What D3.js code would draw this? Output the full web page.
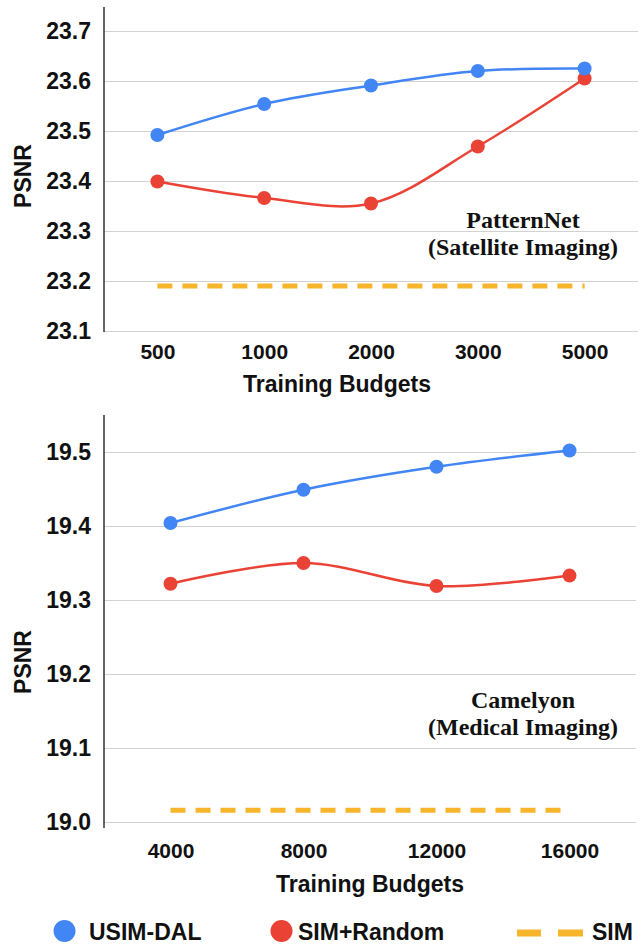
<!DOCTYPE html>
<html>
<head>
<meta charset="utf-8">
<script src="https://cdn.jsdelivr.net/npm/d3@7"></script>
<style>
  body { margin: 0; background: #fff; }
  text { font-family: "Liberation Sans", Arial, sans-serif; }
</style>
</head>
<body>
<div id="grafica"></div>
<script>
// Data
var topBudgets = ["500", "1000", "2000", "3000", "5000"];
var topUsim = [23.492, 23.554, 23.591, 23.62, 23.625];
var topRandom = [23.399, 23.366, 23.355, 23.469, 23.605];
var topSim = [23.19, 23.19, 23.19, 23.19, 23.19];
var topTicks = [23.1, 23.2, 23.3, 23.4, 23.5, 23.6, 23.7];

var bottomBudgets = ["4000", "8000", "12000", "16000"];
var bottomUsim = [19.404, 19.449, 19.48, 19.502];
var bottomRandom = [19.322, 19.35, 19.319, 19.333];
var bottomSim = [19.016, 19.016, 19.016, 19.016];
var bottomTicks = [19.0, 19.1, 19.2, 19.3, 19.4, 19.5];

var seriesNames = ["USIM-DAL", "SIM+Random", "SIM"];

var blue = "#4285f4", red = "#ea4335", yellow = "#f7b52c";

var width = 643, height = 948;
var axisX = 104;

var svg = d3.select("#grafica")
  .append("svg")
  .attr("width", width)
  .attr("height", height);

// One panel = grid, axis, three series, annotation
function drawPanel(p) {
  var x = d3.scalePoint()
    .domain(p.budgets)
    .range([axisX, p.right])
    .padding(0.5);

  var y = d3.scaleLinear()
    .domain(p.yDomain)
    .range([p.bottom, p.top]);

  // gridlines
  var grid = svg.append("g")
    .attr("transform", "translate(" + axisX + ",0)")
    .call(d3.axisLeft(y).tickValues(p.ticks).tickSize(-(p.right - axisX)).tickFormat(""));
  grid.select(".domain").remove();
  grid.selectAll("line").attr("stroke", "#d2d2d2").attr("stroke-width", 1.2);

  // y tick labels
  var yAxis = svg.append("g")
    .attr("transform", "translate(94,0)")
    .call(d3.axisLeft(y).tickValues(p.ticks).tickSize(0).tickFormat(d3.format(".1f")));
  yAxis.select(".domain").remove();
  yAxis.selectAll("text")
    .style("font-size", "23px")
    .style("font-weight", "bold")
    .attr("fill", "#111");

  // vertical axis line
  svg.append("line")
    .attr("x1", axisX)
    .attr("x2", axisX)
    .attr("y1", p.top)
    .attr("y2", p.axisEnd)
    .attr("stroke", "#333")
    .attr("stroke-width", 1.5);

  // x tick labels
  var xAxis = svg.append("g")
    .attr("transform", "translate(0," + p.bottom + ")")
    .call(d3.axisBottom(x).tickSize(0));
  xAxis.select(".domain").remove();
  xAxis.selectAll("text")
    .attr("y", p.xLabelOffset)
    .attr("dy", null)
    .style("font-size", "21px")
    .style("font-weight", "bold")
    .attr("fill", "#111");

  // axis titles
  svg.append("text")
    .attr("x", p.xTitleX)
    .attr("y", p.xTitleY)
    .attr("text-anchor", "middle")
    .style("font-size", "23px")
    .style("font-weight", "bold")
    .attr("fill", "#111")
    .text("Training Budgets");

  svg.append("text")
    .attr("transform", "translate(31," + p.yTitleY + ") rotate(-90)")
    .attr("text-anchor", "middle")
    .style("font-size", "23px")
    .style("font-weight", "bold")
    .attr("fill", "#111")
    .text("PSNR");

  // SIM baseline (dashed)
  var flat = d3.line()
    .x(function (d, i) { return x(p.budgets[i]); })
    .y(function (d) { return y(d); });
  svg.append("path")
    .datum(p.sim)
    .attr("d", flat)
    .attr("fill", "none")
    .attr("stroke", yellow)
    .attr("stroke-width", 5)
    .attr("stroke-dasharray", "15,10");

  // smooth lines + dots
  var smooth = d3.line()
    .x(function (d, i) { return x(p.budgets[i]); })
    .y(function (d) { return y(d); })
    .curve(d3.curveCatmullRom);

  [[p.random, red], [p.usim, blue]].forEach(function (s) {
    svg.append("path")
      .datum(s[0])
      .attr("d", smooth)
      .attr("fill", "none")
      .attr("stroke", s[1])
      .attr("stroke-width", 2.5);
    svg.append("g")
      .selectAll("circle")
      .data(s[0])
      .enter()
      .append("circle")
      .attr("cx", function (d, i) { return x(p.budgets[i]); })
      .attr("cy", function (d) { return y(d); })
      .attr("r", 7)
      .attr("fill", s[1]);
  });

  // dataset annotation
  var note = svg.append("text")
    .attr("text-anchor", "middle")
    .style("font-family", "'Liberation Serif', 'Times New Roman', serif")
    .style("font-size", "24px")
    .style("font-weight", "bold")
    .attr("fill", "#111");
  note.append("tspan").attr("x", 523).attr("y", p.noteY).text(p.note[0]);
  note.append("tspan").attr("x", 523).attr("y", p.noteY + 27).text(p.note[1]);
}

drawPanel({
  budgets: topBudgets, usim: topUsim, random: topRandom, sim: topSim, ticks: topTicks,
  yDomain: [23.1, 23.748], top: 7, bottom: 331, axisEnd: 332, right: 638,
  xLabelOffset: 28, xTitleX: 337, xTitleY: 392, yTitleY: 176,
  note: ["PatternNet", "(Satellite Imaging)"], noteY: 228
});

drawPanel({
  budgets: bottomBudgets, usim: bottomUsim, random: bottomRandom, sim: bottomSim, ticks: bottomTicks,
  yDomain: [19.0, 19.55], top: 415, bottom: 822, axisEnd: 828, right: 636,
  xLabelOffset: 36, xTitleX: 370, xTitleY: 892, yTitleY: 662,
  note: ["Camelyon", "(Medical Imaging)"], noteY: 708
});

// Legend (kept a few px above the bottom edge so the text is not clipped)
var legendY = 931;
var legend = svg.append("g");
legend.append("circle").attr("cx", 64.5).attr("cy", legendY).attr("r", 11).attr("fill", blue);
legend.append("circle").attr("cx", 281.5).attr("cy", legendY).attr("r", 11).attr("fill", red);
legend.append("line").attr("x1", 517).attr("x2", 541).attr("y1", legendY + 2).attr("y2", legendY + 2)
  .attr("stroke", yellow).attr("stroke-width", 7);
legend.append("line").attr("x1", 558).attr("x2", 583).attr("y1", legendY + 2).attr("y2", legendY + 2)
  .attr("stroke", yellow).attr("stroke-width", 7);
legend.selectAll("text")
  .data([[89, seriesNames[0]], [298, seriesNames[1]], [592, seriesNames[2]]])
  .enter()
  .append("text")
  .attr("x", function (d) { return d[0]; })
  .attr("y", legendY + 9)
  .style("font-size", "23px")
  .style("font-weight", "bold")
  .attr("fill", "#111")
  .text(function (d) { return d[1]; });
</script>
</body>
</html>
